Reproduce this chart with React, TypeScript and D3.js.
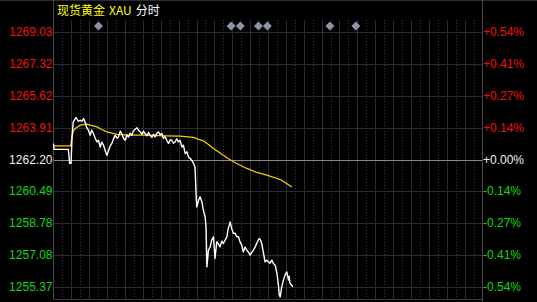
import React from 'react';
import * as d3 from 'd3';

// ---- data ----
const priceMinutes = [0, 2, 50, 54, 59, 62, 66, 73, 76, 83, 90, 96, 101, 106, 111, 117, 123, 128, 134, 140, 146, 151, 157, 162, 168, 173, 179, 185, 190, 196, 201, 207, 213, 218, 224, 229, 235, 241, 246, 252, 257, 263, 268, 274, 280, 285, 291, 297, 302, 308, 313, 319, 324, 330, 336, 341, 347, 352, 358, 364, 369, 375, 380, 386, 392, 397, 403, 408, 414, 419, 425, 431, 436, 442, 448, 453, 459, 464, 470, 475, 479, 481, 487, 492, 498, 503, 509, 512, 515, 520, 526, 531, 537, 542, 548, 554, 559, 565, 570, 576, 582, 586, 590, 593, 598, 604, 610, 615, 621, 626, 632, 637, 643, 649, 654, 660, 666, 671, 677, 682, 687, 691, 695, 699, 705, 710, 716, 721, 727, 733, 738, 744, 750, 755, 758, 761, 766, 772, 777, 783, 789, 791, 794, 800, 803];
const prices = [1263.05, 1262.74, 1262.74, 1261.99, 1261.99, 1263.34, 1264.20, 1264.39, 1264.45, 1264.25, 1264.30, 1264.25, 1264.39, 1264.21, 1263.93, 1263.77, 1263.50, 1263.77, 1263.59, 1263.34, 1263.14, 1263.23, 1262.87, 1263.13, 1262.97, 1262.70, 1262.43, 1262.70, 1262.91, 1263.06, 1263.29, 1263.50, 1263.34, 1263.41, 1263.72, 1263.59, 1263.34, 1263.23, 1263.50, 1263.41, 1263.61, 1263.50, 1263.72, 1263.82, 1263.90, 1263.77, 1263.68, 1263.55, 1263.72, 1263.59, 1263.47, 1263.64, 1263.50, 1263.39, 1263.55, 1263.41, 1263.61, 1263.68, 1263.53, 1263.59, 1263.34, 1263.41, 1263.23, 1263.06, 1263.26, 1263.23, 1263.07, 1263.14, 1263.31, 1263.14, 1263.23, 1262.87, 1262.97, 1262.52, 1262.61, 1262.34, 1262.25, 1262.16, 1261.99, 1261.79, 1260.20, 1259.66, 1260.02, 1260.20, 1259.93, 1259.49, 1259.13, 1258.59, 1256.45, 1257.34, 1257.52, 1257.88, 1258.06, 1256.90, 1257.79, 1257.67, 1257.52, 1257.83, 1257.70, 1257.88, 1258.06, 1258.47, 1258.68, 1258.86, 1258.51, 1258.24, 1258.25, 1258.06, 1258.06, 1257.79, 1257.61, 1257.25, 1257.51, 1257.34, 1257.24, 1257.08, 1257.24, 1257.34, 1257.52, 1257.70, 1257.88, 1257.97, 1257.88, 1257.70, 1257.17, 1256.72, 1256.81, 1256.72, 1256.65, 1256.81, 1256.63, 1256.54, 1256.10, 1255.47, 1254.94, 1254.84, 1255.38, 1255.74, 1256.01, 1256.18, 1255.74, 1255.95, 1255.56, 1255.47, 1255.38];
const avgMinutes = [0, 58, 62, 66, 73, 90, 112, 123, 146, 160, 179, 213, 257, 308, 375, 425, 442, 470, 485, 503, 519, 537, 559, 582, 613, 649, 680, 716, 761, 781, 800];
const avgPrices = [1262.93, 1262.93, 1263.41, 1263.72, 1263.86, 1264.04, 1264.09, 1264.04, 1263.95, 1263.82, 1263.68, 1263.55, 1263.50, 1263.50, 1263.47, 1263.45, 1263.43, 1263.39, 1263.29, 1263.20, 1263.02, 1262.79, 1262.55, 1262.29, 1262.00, 1261.72, 1261.52, 1261.36, 1261.13, 1260.93, 1260.73];
const priceTicks = [1269.03, 1267.32, 1265.62, 1263.91, 1262.20, 1260.49, 1258.78, 1257.08, 1255.37];
const priceTickLabels = ['1269.03', '1267.32', '1265.62', '1263.91', '1262.20', '1260.49', '1258.78', '1257.08', '1255.37'];
const pctTickLabels = ['+0.54%', '+0.41%', '+0.27%', '+0.14%', '+0.00%', '-0.14%', '-0.27%', '-0.41%', '-0.54%'];
const eventMinutes = [151, 596, 627, 688, 718, 928, 1015];
const hourMarks = d3.range(0, 25);
const halfHourMarks = d3.range(0, 24).map((h) => h + 0.5);
const prevClose = 1262.20;
const titleName = '现货黄金';
const titleCode = 'XAU';
const titleSub = '分时';

const W = 537;
const H = 302;
const L = 53.5;
const R = 482.5;
const T = 20;
const B = 299;

const RED = '#f01010';
const GREEN = '#10d810';
const WHITE = '#f0f0f0';
const GRID = '#2c2c34';

export default function App() {
  const x = d3.scaleLinear().domain([0, 1440]).range([L, R]);
  const y = d3.scaleLinear().domain([prevClose - 7.47, prevClose + 7.47]).range([B, T]);

  const priceLine = d3
    .line<number>()
    .x((_, i) => x(priceMinutes[i]))
    .y((d) => y(d));
  const avgLine = d3
    .line<number>()
    .x((_, i) => x(avgMinutes[i]))
    .y((d) => y(d));

  const colorFor = (v: number) => (Math.abs(v - prevClose) < 1e-6 ? WHITE : v > prevClose ? RED : GREEN);

  return (
    <svg
      width={W}
      height={H}
      style={{ position: 'fixed', left: 0, top: 0, background: '#000', display: 'block' }}
      fontFamily="'Liberation Sans', Arial, sans-serif"
    >
      <rect x={0} y={0} width={W} height={H} fill="#000" />
      {/* top frame line */}
      <line x1={0} x2={W} y1={0.5} y2={0.5} stroke="#2e2e38" />
      {/* vertical grid */}
      {halfHourMarks.map((h) => (
        <line
          key={'hh' + h}
          x1={Math.round(x(h * 60)) + 0.5}
          x2={Math.round(x(h * 60)) + 0.5}
          y1={T}
          y2={B}
          stroke="#3a3a46"
          strokeDasharray="1,2"
        />
      ))}
      {hourMarks.slice(1, 24).map((h) => (
        <line
          key={'h' + h}
          x1={Math.round(x(h * 60)) + 0.5}
          x2={Math.round(x(h * 60)) + 0.5}
          y1={T}
          y2={B}
          stroke={GRID}
        />
      ))}
      {/* horizontal grid */}
      {priceTicks.map((p, i) => (
        <line
          key={'g' + i}
          x1={L}
          x2={R}
          y1={Math.round(y(p)) + 0.5}
          y2={Math.round(y(p)) + 0.5}
          stroke={p === prevClose ? '#8a8a8a' : GRID}
        />
      ))}
      {/* borders */}
      <line x1={L} x2={L} y1={0} y2={B} stroke="#4a4a52" />
      <line x1={R} x2={R} y1={0} y2={H} stroke="#4a4a52" />
      <line x1={L} x2={R} y1={B + 0.5} y2={B + 0.5} stroke="#3a3a44" />

      {/* event markers */}
      {eventMinutes.map((m, i) => {
        const cx = x(m);
        const cy = 26;
        const r = 4.5;
        return (
          <path
            key={'e' + i}
            d={`M${cx},${cy - r}L${cx + r},${cy}L${cx},${cy + r}L${cx - r},${cy}Z`}
            fill="#8a94a8"
          />
        );
      })}

      {/* series */}
      <path d={avgLine(avgPrices) || ''} fill="none" stroke="#f5cc00" strokeWidth={1.3} />
      <path d={priceLine(prices) || ''} fill="none" stroke="#ffffff" strokeWidth={1.4} strokeLinejoin="round" />

      {/* left axis labels */}
      {priceTicks.map((p, i) => (
        <text
          key={'l' + i}
          x={L - 1}
          y={y(p) + 4}
          textAnchor="end"
          fontSize={12}
          fill={colorFor(p)}
        >
          {priceTickLabels[i]}
        </text>
      ))}
      {/* right axis labels */}
      {priceTicks.map((p, i) => (
        <text key={'r' + i} x={R + 0.5} y={y(p) + 4} textAnchor="start" fontSize={12} fill={colorFor(p)}>
          {pctTickLabels[i]}
        </text>
      ))}

      {/* title */}
      <text x={57} y={15} fontSize={12} fontFamily="'Noto Sans CJK SC', sans-serif">
        <tspan fill="#ffff00">{titleName}</tspan>
        <tspan fill="#ffff00" dx={4}>{titleCode}</tspan>
        <tspan fill="#ffffff" dx={4}>{titleSub}</tspan>
      </text>
    </svg>
  );
}
